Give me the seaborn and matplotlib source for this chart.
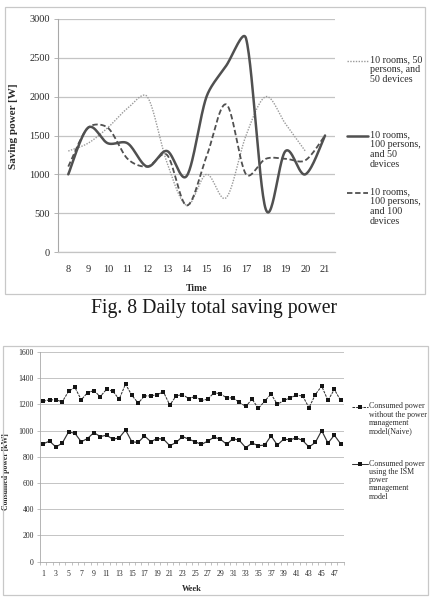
import numpy as np
import pandas as pd
import matplotlib
matplotlib.use("Agg")
import matplotlib.pyplot as plt
import seaborn as sns
from matplotlib.lines import Line2D
from matplotlib.patches import Rectangle

# ---------------- data ----------------
hours = list(range(8, 22))
rooms10_p50_d50 = [1300, 1400, 1600, 1850, 2000, 1150, 600, 1000, 700, 1500, 2000, 1650, 1300, np.nan]
rooms10_p100_d50 = [1000, 1600, 1400, 1400, 1100, 1300, 980, 2000, 2400, 2750, 550, 1300, 1000, 1500]
rooms10_p100_d100 = [1100, 1600, 1600, 1200, 1100, 1250, 600, 1230, 1900, 1000, 1200, 1200, 1180, 1500]
hour_ticks = list(range(8, 22))
saving_ticks = [0, 500, 1000, 1500, 2000, 2500, 3000]

weeks = list(range(1, 49))
naive = [1225, 1235, 1235, 1220, 1300, 1330, 1235, 1290, 1305, 1260,
         1315, 1300, 1240, 1355, 1270, 1210, 1265, 1265, 1275, 1295,
         1195, 1265, 1275, 1245, 1260, 1230, 1240, 1290, 1280, 1250,
         1250, 1215, 1185, 1240, 1170, 1225, 1280, 1200, 1230, 1250,
         1270, 1265, 1175, 1275, 1340, 1230, 1315, 1230]
ism = [900, 920, 875, 905, 990, 980, 915, 940, 985, 955,
       965, 935, 945, 1005, 915, 910, 960, 915, 940, 935,
       885, 910, 955, 935, 915, 895, 920, 950, 935, 895,
       940, 925, 870, 905, 885, 890, 960, 890, 935, 930,
       945, 925, 875, 910, 1000, 905, 965, 900]
week_ticks = list(range(1, 48, 2))
consumed_ticks = list(range(0, 1601, 200))

# ---------------- style ----------------
sns.set_theme(style="white")
plt.rcParams["font.family"] = ["Liberation Serif", "DejaVu Serif"]
TXT = "#2a2a2a"
GRID = "#c4c4c4"
AXC = "#a8a8a8"

W, H = 431, 599
fig = plt.figure(figsize=(W / 100, H / 100), dpi=100)
fig.patch.set_facecolor("white")


def fx(px):
    return px / W


def fy(py):
    return 1 - py / H


def smooth(x, y, sx, sy, n=30):
    """Excel-like smoothed curve through the given points (Catmull-Rom Bezier,
    control arms limited to a third of the segment length in screen space)."""
    x = np.asarray(x, float)
    y = np.asarray(y, float)
    m = ~np.isnan(y)
    P = np.stack([x[m] * sx, y[m] * sy], axis=1)
    Pe = np.vstack([P[0], P, P[-1]])
    t = np.linspace(0, 1, n)[:, None]
    segs = []
    for i in range(1, len(Pe) - 2):
        p0, p1, p2, p3 = Pe[i - 1], Pe[i], Pe[i + 1], Pe[i + 2]
        d = np.linalg.norm(p2 - p1)
        a1 = (p2 - p0) / 6
        a2 = (p3 - p1) / 6
        for a in (a1, a2):
            L = np.linalg.norm(a)
            if L > d / 3:
                a *= (d / 3) / L
        c1 = p1 + a1
        c2 = p2 - a2
        b = (1 - t) ** 3 * p1 + 3 * (1 - t) ** 2 * t * c1 + 3 * (1 - t) * t ** 2 * c2 + t ** 3 * p2
        if i > 1:
            b = b[1:]
        segs.append(b)
    b = np.vstack(segs)
    return pd.DataFrame({"x": b[:, 0] / sx, "y": b[:, 1] / sy})


# ---------------- frames and caption ----------------
fig.add_artist(Rectangle((fx(5), fy(294)), fx(420), (294 - 7) / H, transform=fig.transFigure,
                         fill=False, ec="#c8c8c8", lw=0.9))
fig.add_artist(Rectangle((fx(3), fy(595)), fx(425), (595 - 346) / H, transform=fig.transFigure,
                         fill=False, ec="#c8c8c8", lw=0.9))
fig.text(fx(214), fy(308), "Fig. 8 Daily total saving power", ha="center", va="center",
         fontsize=14.2, color="#1a1a1a")

# ---------------- top chart ----------------
ax1 = fig.add_axes([fx(58.4), fy(252), (334.9 - 58.4) / W, (252 - 19) / H])
styles_top = [
    (rooms10_p50_d50, "#9a9a9a", 1.0, (0, (1, 1))),
    (rooms10_p100_d50, "#505050", 1.8, "-"),
    (rooms10_p100_d100, "#505050", 1.3, (0, (3, 1.5))),
]
for vals, col, lw, ls in styles_top:
    d = smooth(hours, vals, 19.75, 233 / 3000)
    sns.lineplot(data=d, x="x", y="y", ax=ax1, sort=False, estimator=None,
                 color=col, lw=lw, linestyle=ls)
ax1.set_xlim(7.5, 21.5)
ax1.set_ylim(0, 3000)
ax1.set_xticks(hour_ticks)
ax1.set_xticklabels([str(h) for h in hour_ticks])
ax1.set_yticks(saving_ticks)
ax1.set_yticklabels([str(v) for v in saving_ticks])
ax1.yaxis.grid(True, color=GRID, lw=0.9)
ax1.xaxis.grid(False)
ax1.set_axisbelow(True)
for s in ["top", "right"]:
    ax1.spines[s].set_visible(False)
ax1.spines["left"].set_color(AXC)
ax1.spines["bottom"].set_color(GRID)
ax1.spines["left"].set_linewidth(0.8)
ax1.spines["bottom"].set_linewidth(0.9)
ax1.tick_params(axis="x", length=0, pad=9, labelsize=7.5, labelcolor=TXT)
ax1.tick_params(axis="y", length=3, width=0.6, color=AXC, pad=3, labelsize=7.5, labelcolor=TXT, left=True)
ax1.set_xlabel("Time", fontsize=7, fontweight="bold", color=TXT)
ax1.xaxis.set_label_coords(0.5, -0.137)
ax1.set_ylabel("Saving power [W]", fontsize=8, fontweight="bold", color=TXT)
ax1.yaxis.set_label_coords(-0.146, 0.54)

top_leg = [
    (61, "#9a9a9a", 1.0, (0, (1, 1)), "10 rooms, 50\npersons, and\n50 devices"),
    (136, "#505050", 1.8, "-", "10 rooms,\n100 persons,\nand 50\ndevices"),
    (193, "#505050", 1.3, (0, (3, 1.5)), "10 rooms,\n100 persons,\nand 100\ndevices"),
]
for yy, col, lw, ls, lab in top_leg:
    fig.add_artist(Line2D([fx(347), fx(368)], [fy(yy), fy(yy)], transform=fig.transFigure,
                          color=col, lw=lw, linestyle=ls))
    fig.text(fx(370), fy(yy - 5.5), lab, ha="left", va="top", fontsize=7.2, color=TXT,
             linespacing=1.12)

# ---------------- bottom chart ----------------
ax2 = fig.add_axes([fx(40.1), fy(561.7), (343.8 - 40.1) / W, (561.7 - 352) / H])
dfw = pd.DataFrame({"week": weeks, "naive": naive, "ism": ism})
sns.lineplot(data=dfw, x="week", y="naive", ax=ax2, color="#333333", lw=0.75,
             linestyle=(0, (2.5, 1)), marker="s", markersize=3.1, markeredgewidth=0,
             markerfacecolor="#151515")
sns.lineplot(data=dfw, x="week", y="ism", ax=ax2, color="#333333", lw=0.85,
             marker="s", markersize=3.1, markeredgewidth=0, markerfacecolor="#151515")
ax2.set_xlim(0.5, 48.5)
ax2.set_ylim(0, 1600)
ax2.set_xticks(week_ticks)
ax2.set_xticklabels([str(w) for w in week_ticks])
ax2.set_xticks(np.arange(0.5, 49, 1), minor=True)
ax2.set_yticks(consumed_ticks)
ax2.set_yticklabels([str(v) for v in consumed_ticks])
ax2.yaxis.grid(True, color=GRID, lw=0.7)
ax2.xaxis.grid(False)
ax2.set_axisbelow(True)
for s in ["top", "right"]:
    ax2.spines[s].set_visible(False)
ax2.spines["left"].set_color(AXC)
ax2.spines["bottom"].set_color(AXC)
ax2.spines["left"].set_linewidth(0.6)
ax2.spines["bottom"].set_linewidth(0.6)
ax2.tick_params(axis="x", which="major", length=0, pad=6, labelsize=5.6, labelcolor=TXT)
ax2.tick_params(axis="x", which="minor", length=2, width=0.5, color=AXC, bottom=True)
ax2.tick_params(axis="y", length=2, width=0.5, color=AXC, pad=2.5, labelsize=5.6,
                labelcolor=TXT, left=True)
ax2.set_xlabel("Week", fontsize=6, fontweight="bold", color=TXT)
ax2.xaxis.set_label_coords(0.5, -0.111)
ax2.set_ylabel("Consumed power [kW]", fontsize=5.6, fontweight="bold", color=TXT)
ax2.yaxis.set_label_coords(-0.099, 0.43)

bot_leg = [
    (407, (0, (2.5, 1)), "Consumed power\nwithout the power\nmanagement\nmodel(Naive)"),
    (464, "-", "Consumed power\nusing the ISM\npower\nmanagement\nmodel"),
]
for yy, ls, lab in bot_leg:
    fig.add_artist(Line2D([fx(352), fx(368)], [fy(yy), fy(yy)], transform=fig.transFigure,
                          color="#333333", lw=0.75, linestyle=ls))
    fig.add_artist(Line2D([fx(360)], [fy(yy)], transform=fig.transFigure, marker="s",
                          markersize=3.1, markeredgewidth=0, markerfacecolor="#151515", lw=0))
    fig.text(fx(369), fy(yy - 4.5), lab, ha="left", va="top", fontsize=5.7, color=TXT,
             linespacing=1.05)

fig.savefig("out.png", dpi=100, facecolor="white")
